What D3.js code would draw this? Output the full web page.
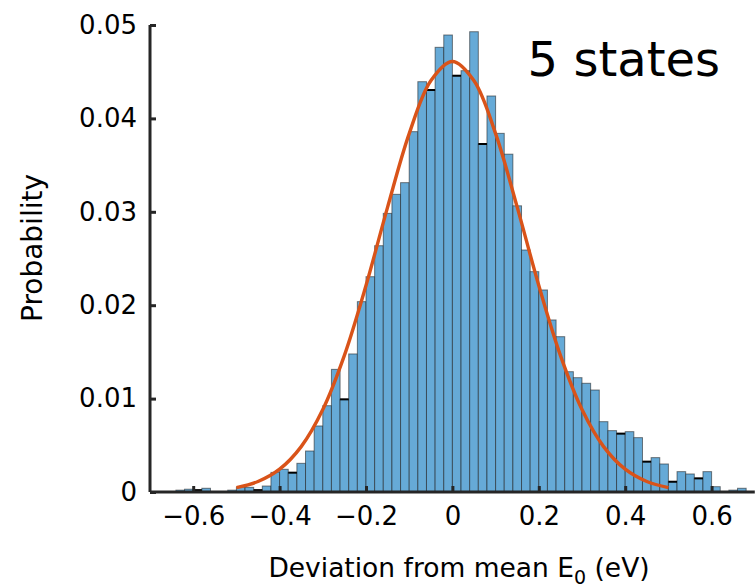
<!DOCTYPE html>
<html>
<head>
<meta charset="utf-8">
<script src="https://cdn.jsdelivr.net/npm/d3@7/dist/d3.min.js"></script>
<style>
  html, body { margin: 0; padding: 0; background: #fff; }
  svg { display: block; font-family: "DejaVu Sans", sans-serif; }
</style>
</head>
<body>
<svg id="chart" width="756" height="587"></svg>
<script>
// Lower edge of each histogram bin (eV), bin width 0.02 eV
const binLower = [
  -0.64, -0.62, -0.60, -0.58, -0.56, -0.54, -0.52, -0.50, -0.48, -0.46,
  -0.44, -0.42, -0.40, -0.38, -0.36, -0.34, -0.32, -0.30, -0.28, -0.26,
  -0.24, -0.22, -0.20, -0.18, -0.16, -0.14, -0.12, -0.10, -0.08, -0.06,
  -0.04, -0.02,  0.00,  0.02,  0.04,  0.06,  0.08,  0.10,  0.12,  0.14,
   0.16,  0.18,  0.20,  0.22,  0.24,  0.26,  0.28,  0.30,  0.32,  0.34,
   0.36,  0.38,  0.40,  0.42,  0.44,  0.46,  0.48,  0.50,  0.52,  0.54,
   0.56,  0.58,  0.60,  0.62,  0.64,  0.66
];
const binWidth = 0.02;

// Probability of each bin
const probability = [
  0.0002, 0.0003, 0.0002, 0.0004, 0, 0, 0.0002, 0.0005, 0.0005, 0.0002,
  0.00064, 0.0021, 0.00243, 0.00207, 0.00307, 0.00439, 0.00707, 0.00924, 0.01313, 0.00992,
  0.01478, 0.02038, 0.02305, 0.02637, 0.02983, 0.03187, 0.03312, 0.03858, 0.04393, 0.04304,
  0.04761, 0.04893, 0.04457, 0.04511, 0.04928, 0.03726, 0.0424, 0.0384, 0.03617, 0.03064,
  0.02591, 0.02359, 0.02163, 0.01842, 0.01663, 0.01288, 0.01224, 0.01164, 0.01092, 0.00753,
  0.00657, 0.00625, 0.00646, 0.00582, 0.00325, 0.00368, 0.003, 0.0011, 0.00218, 0.00193,
  0.00146, 0.00218, 0.00057, 0, 0.0002, 0.0004
];

// Fitted normal curve, sampled every 0.05 eV
const fitX = [-0.50, -0.45, -0.40, -0.35, -0.30, -0.25, -0.20, -0.15, -0.10, -0.05, 0.00,
               0.05,  0.10,  0.15,  0.20,  0.25,  0.30,  0.35,  0.40,  0.45,  0.50];
const fitY = [0.00047, 0.00112, 0.00244, 0.00486, 0.00883, 0.01463, 0.02211, 0.03050, 0.03837, 0.04403, 0.0461,
              0.04403, 0.03837, 0.03050, 0.02211, 0.01463, 0.00883, 0.00486, 0.00244, 0.00112, 0.00047];

const xTicks = [-0.6, -0.4, -0.2, 0, 0.2, 0.4, 0.6];
const yTicks = [0, 0.01, 0.02, 0.03, 0.04, 0.05];
const annotation = "5 states";

const svg = d3.select("#chart");
const x = d3.scaleLinear().domain([-0.7, 0.7]).range([150, 754.8]);
const y = d3.scaleLinear().domain([0, 0.05]).range([492, 25]);

const bins = binLower.map((lo, i) => ({ lo, hi: lo + binWidth, p: probability[i], i }));

// bars
svg.append("g").selectAll("rect")
  .data(bins.filter(d => d.p > 0))
  .join("rect")
  .attr("x", d => x(d.lo))
  .attr("width", d => x(d.hi) - x(d.lo))
  .attr("y", d => y(d.p))
  .attr("height", d => y(0) - y(d.p))
  .attr("fill", "#66aad7")
  .attr("stroke", "#1a1a1a")
  .attr("stroke-opacity", 0.55)
  .attr("stroke-width", 1);

// dark top edge on bins lower than both neighbours
const isDip = d => d.p > 0 && d.i > 0 && d.i < probability.length - 1 &&
  d.p < probability[d.i - 1] && d.p < probability[d.i + 1];
svg.append("g").selectAll("line")
  .data(bins.filter(isDip))
  .join("line")
  .attr("x1", d => x(d.lo))
  .attr("x2", d => x(d.hi))
  .attr("y1", d => y(d.p))
  .attr("y2", d => y(d.p))
  .attr("stroke", "#000")
  .attr("stroke-width", 2);

// fitted curve
const line = d3.line()
  .x((d, i) => x(fitX[i]))
  .y(d => y(d))
  .curve(d3.curveCatmullRom);
svg.append("path")
  .attr("d", line(fitY))
  .attr("fill", "none")
  .attr("stroke", "#d95319")
  .attr("stroke-width", 3.4)
  .attr("stroke-linecap", "butt");

// axes with inward ticks
const fmtX = v => v === 0 ? "0" : d3.format(".1f")(v).replace("-", "\u2212");
const fmtY = v => v === 0 ? "0" : d3.format(".2f")(v);

const xAxis = svg.append("g")
  .attr("transform", `translate(0,${y(0)})`)
  .call(d3.axisBottom(x).tickValues(xTicks).tickSize(-6).tickPadding(15).tickFormat(fmtX));
const yAxis = svg.append("g")
  .attr("transform", `translate(${x(-0.7)},0)`)
  .call(d3.axisLeft(y).tickValues(yTicks).tickSize(-6).tickPadding(13).tickFormat(fmtY));

[xAxis, yAxis].forEach(g => {
  g.select(".domain").attr("stroke", "#262626").attr("stroke-width", 3);
  g.selectAll(".tick line").attr("stroke", "#262626").attr("stroke-width", 3);
  g.selectAll(".tick text").attr("fill", "#000").style("font-size", "26px")
    .style("font-family", "'DejaVu Sans', sans-serif");
});
xAxis.select(".domain").attr("d", `M${x(-0.7)},0H${x(0.7)}`);
yAxis.select(".domain").attr("d", `M0,${y(0.05)}V${y(0)}`);

// axis titles
svg.append("text")
  .attr("transform", "translate(42,248) rotate(-90)")
  .attr("text-anchor", "middle")
  .style("font-size", "28px")
  .text("Probability");

const xt = svg.append("text")
  .attr("x", 459)
  .attr("y", 577)
  .attr("text-anchor", "middle")
  .style("font-size", "26.5px");
xt.append("tspan").text("Deviation from mean E");
xt.append("tspan").attr("dy", 7).style("font-size", "19px").text("0");
xt.append("tspan").attr("dy", -7).text(" (eV)");

svg.append("text")
  .attr("x", 720)
  .attr("y", 76)
  .attr("text-anchor", "end")
  .style("font-size", "48px")
  .text(annotation);
</script>
</body>
</html>
